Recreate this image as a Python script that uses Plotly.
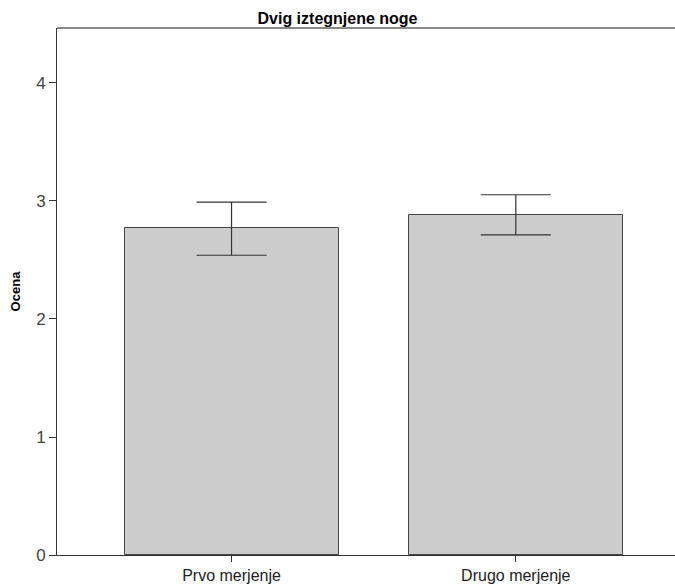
import plotly.graph_objects as go

categories = ["Prvo merjenje", "Drugo merjenje"]
means = [2.77, 2.885]
err_plus = [0.22, 0.168]
err_minus = [0.23, 0.172]
y_ticks = [0, 1, 2, 3, 4]

fig = go.Figure()
fig.add_trace(go.Bar(
    x=[0, 1], y=means, width=0.753,
    marker=dict(color="#cccccc", line=dict(color="#444444", width=1)),
    error_y=dict(type="data", symmetric=False, array=err_plus, arrayminus=err_minus,
                 color="#333333", thickness=1.2, width=35),
    showlegend=False,
))

font = "Liberation Sans, Arial, sans-serif"
fig.update_layout(
    width=675, height=584,
    margin=dict(l=57, r=0, t=28, b=29),
    paper_bgcolor="white", plot_bgcolor="white",
    font=dict(family=font, color="#333333"),
    title=dict(text="<b>Dvig iztegnjene noge</b>", x=0.5, xanchor="center",
               y=1 - 18 / 584, yanchor="middle", font=dict(size=16, color="#000000")),
    bargap=0,
)
fig.update_xaxes(
    range=[-0.614, 1.56], tickvals=[0, 1], ticktext=categories,
    showline=True, linecolor="#333333", linewidth=1,
    ticks="outside", ticklen=6, tickcolor="#333333",
    tickfont=dict(size=16, color="#222222"), showgrid=False, zeroline=False,
)
fig.update_yaxes(
    range=[0, 4.466], tickvals=y_ticks, ticktext=[str(v) for v in y_ticks],
    showline=True, linecolor="#333333", linewidth=1,
    ticks="outside", ticklen=7, tickcolor="#333333",
    tickfont=dict(size=17, color="#444444"), showgrid=False, zeroline=False,
    title=dict(text="<b>Ocena</b>", font=dict(size=13, color="#000000"), standoff=12),
)
fig.add_shape(type="line", xref="paper", yref="paper", x0=0, x1=1, y0=1, y1=1,
              line=dict(color="#888888", width=2))
fig.write_html("out.html")
